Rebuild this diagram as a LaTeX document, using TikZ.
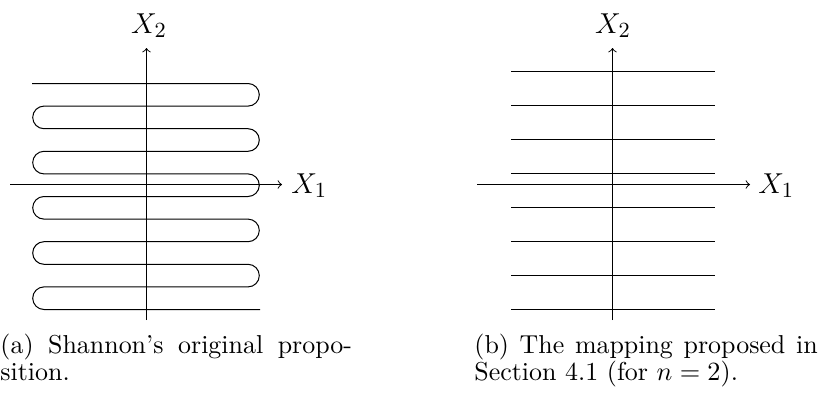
\documentclass[tikz,border=0pt]{standalone}
\begin{document}
\begin{tikzpicture}[x=0.416667pt,y=0.416667pt,
  axisline/.style={->,line width=0.4pt},
  curveline/.style={line width=0.42pt},
  axlabel/.style={inner sep=0pt,font=\fontsize{13.2}{16}\selectfont},
  captext/.style={inner sep=0pt,anchor=base west,font=\fontsize{10.8}{13}\selectfont}]
\useasboundingbox (0,0) rectangle (819,392);
% ---------- left panel ----------
\coordinate (L1s) at (10,207.5);
\coordinate (L1e) at (282,207.5);
\coordinate (L2s) at (146.5,72);
\coordinate (L2e) at (146.5,344);
\draw[axisline] (L1s) -- (L1e);
\draw[axisline] (L2s) -- (L2e);
\node[axlabel,anchor=base west] (LX1) at (291,199) {$X_1$};
\node[axlabel,anchor=base] (LX2) at (149,359) {$X_2$};
\def\r{4.708pt}
\draw[curveline] (32,308.5) -- (248,308.5)
  arc[start angle=90,end angle=-90,radius=\r] -- (44,285.9)
  arc[start angle=90,end angle=270,radius=\r] -- (248,263.3)
  arc[start angle=90,end angle=-90,radius=\r] -- (44,240.7)
  arc[start angle=90,end angle=270,radius=\r] -- (248,218.1)
  arc[start angle=90,end angle=-90,radius=\r] -- (44,195.5)
  arc[start angle=90,end angle=270,radius=\r] -- (248,172.9)
  arc[start angle=90,end angle=-90,radius=\r] -- (44,150.3)
  arc[start angle=90,end angle=270,radius=\r] -- (248,127.7)
  arc[start angle=90,end angle=-90,radius=\r] -- (44,105.1)
  arc[start angle=90,end angle=270,radius=\r] -- (260,82.5);
\node[captext] (capA1) at (0,39) {\makebox[146.5pt][s]{(a) Shannon's original propo-}};
\node[captext] (capA2) at (0,12) {sition.};
% ---------- right panel ----------
\coordinate (R1s) at (477,207.5);
\coordinate (R1e) at (750,207.5);
\coordinate (R2s) at (612.5,72);
\coordinate (R2e) at (612.5,344);
\draw[axisline] (R1s) -- (R1e);
\draw[axisline] (R2s) -- (R2e);
\node[axlabel,anchor=base west] (RX1) at (758,199) {$X_1$};
\node[axlabel,anchor=base] (RX2) at (613,359) {$X_2$};
\foreach \yy in {320.5,286.5,252.5,218.5,184.5,150.5,116.5,82.5}
  \draw[curveline] (511,\yy) -- (715,\yy);
\node[captext] (capB1) at (474,39) {\makebox[143pt][s]{(b) The mapping proposed in}};
\node[captext] (capB2) at (474,12) {Section 4.1 (for $n=2$).};
\end{tikzpicture}
\end{document}
